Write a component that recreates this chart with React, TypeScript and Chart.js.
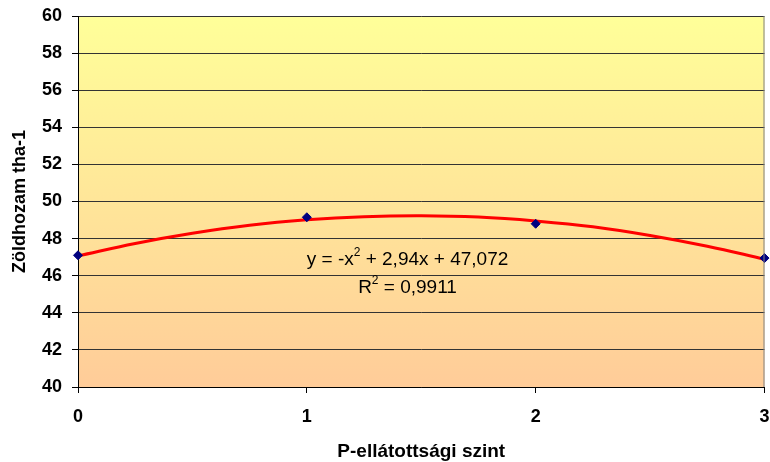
import React, { useEffect, useRef } from "react";
import { Chart, registerables } from "chart.js";

Chart.register(...registerables);

const levels = [0, 1, 2, 3];
const yieldValues = [47.1, 49.15, 48.8, 46.95];
const trendX = [0, 0.25, 0.5, 0.75, 1, 1.25, 1.5, 1.75, 2, 2.25, 2.5, 2.75, 3];
const trendY = [47.07, 47.74, 48.29, 48.72, 49.01, 49.18, 49.23, 49.16, 48.95, 48.64, 48.17, 47.59, 46.89];
const yTicks = [40, 42, 44, 46, 48, 50, 52, 54, 56, 58, 60];
const equationText = "y = -x";
const equationRest = " + 2,94x + 47,072";
const r2Text = "R";
const r2Rest = " = 0,9911";

const FONT = "'Liberation Sans', Arial, sans-serif";

const bgPlugin = {
  id: "bgGradient",
  beforeDraw(chart: any) {
    const { ctx, chartArea } = chart;
    if (!chartArea) return;
    const g = ctx.createLinearGradient(0, chartArea.top, 0, chartArea.bottom);
    g.addColorStop(0, "#FFFF99");
    g.addColorStop(1, "#FFCC99");
    ctx.save();
    ctx.fillStyle = g;
    ctx.fillRect(chartArea.left, chartArea.top, chartArea.right - chartArea.left, chartArea.bottom - chartArea.top);
    ctx.restore();
  },
  afterDraw(chart: any) {
    const { ctx, chartArea, scales } = chart;
    ctx.save();
    ctx.strokeStyle = "#808080";
    ctx.lineWidth = 1;
    ctx.beginPath();
    ctx.moveTo(chartArea.right - 0.5, chartArea.top);
    ctx.lineTo(chartArea.right - 0.5, chartArea.bottom);
    ctx.stroke();
    const cx = scales.x.getPixelForValue(1.44);
    const y1 = scales.y.getPixelForValue(46.85);
    const y2 = scales.y.getPixelForValue(45.35);
    ctx.fillStyle = "#000";
    ctx.textBaseline = "middle";
    const mainFont = `19px ${FONT}`;
    const supFont = `12px ${FONT}`;
    const drawLine = (a: string, b: string, yy: number) => {
      ctx.font = mainFont;
      const wa = ctx.measureText(a).width;
      const wb = ctx.measureText(b).width;
      ctx.font = supFont;
      const ws = ctx.measureText("2").width;
      const total = wa + ws + wb;
      let x = cx - total / 2;
      ctx.textAlign = "left";
      ctx.font = mainFont;
      ctx.fillText(a, x, yy);
      x += wa;
      ctx.font = supFont;
      ctx.fillText("2", x, yy - 7);
      x += ws;
      ctx.font = mainFont;
      ctx.fillText(b, x, yy);
    };
    drawLine(equationText, equationRest, y1);
    drawLine(r2Text, r2Rest, y2);
    ctx.restore();
  },
};

export default function App() {
  const ref = useRef<HTMLCanvasElement>(null);
  useEffect(() => {
    document.body.style.margin = "0";
    const chart = new Chart(ref.current!, {
      type: "scatter",
      data: {
        datasets: [
          {
            label: "trend",
            data: trendX.map((x, i) => ({ x, y: trendY[i] })),
            showLine: true,
            borderColor: "#FF0000",
            borderWidth: 3,
            pointRadius: 0,
            tension: 0.4,
            order: 2,
          },
          {
            label: "Zöldhozam",
            data: levels.map((x, i) => ({ x, y: yieldValues[i] })),
            pointStyle: "rectRot",
            pointRadius: 4.5,
            backgroundColor: "#000080",
            borderColor: "#000080",
            borderWidth: 1,
            order: 1,
          },
        ],
      },
      plugins: [bgPlugin],
      options: {
        animation: false,
        responsive: false,
        clip: false as any,
        layout: { padding: { left: 0, right: 5, top: 16, bottom: 0 } },
        plugins: {
          legend: { display: false },
          tooltip: { enabled: false },
        },
        scales: {
          x: {
            type: "linear",
            min: 0,
            max: 3,
            ticks: {
              stepSize: 1,
              color: "#000",
              font: { family: FONT, size: 18, weight: "bold" },
              padding: 13,
            },
            grid: { display: true, drawOnChartArea: false, tickLength: 6, color: "#000" },
            border: { color: "#000", width: 1 },
            title: {
              display: true,
              text: "P-ellátottsági szint",
              color: "#000",
              font: { family: FONT, size: 19, weight: "bold" },
              padding: { top: 0, bottom: -1 },
            },
            afterFit(scale: any) {
              scale.height = 75;
              scale.paddingLeft = 0;
              scale.paddingRight = 0;
            },
          },
          y: {
            min: 40,
            max: 60,
            afterBuildTicks(scale: any) {
              scale.ticks = yTicks.map((v) => ({ value: v }));
            },
            ticks: {
              color: "#000",
              font: { family: FONT, size: 18, weight: "bold" },
              padding: 10,
            },
            grid: { color: "#333", lineWidth: 1, tickLength: 6, tickColor: "#000" },
            border: { color: "#000", width: 1 },
            title: {
              display: true,
              text: "Zöldhozam tha-1",
              color: "#000",
              font: { family: FONT, size: 18, weight: "bold" },
              padding: { top: 9, bottom: 0 },
            },
            afterFit(scale: any) {
              scale.width = 78;
              scale.paddingTop = 0;
              scale.paddingBottom = 0;
            },
          },
        },
      } as any,
    });
    return () => chart.destroy();
  }, []);
  return <canvas ref={ref} width={770} height={462} style={{ display: "block" }} />;
}
